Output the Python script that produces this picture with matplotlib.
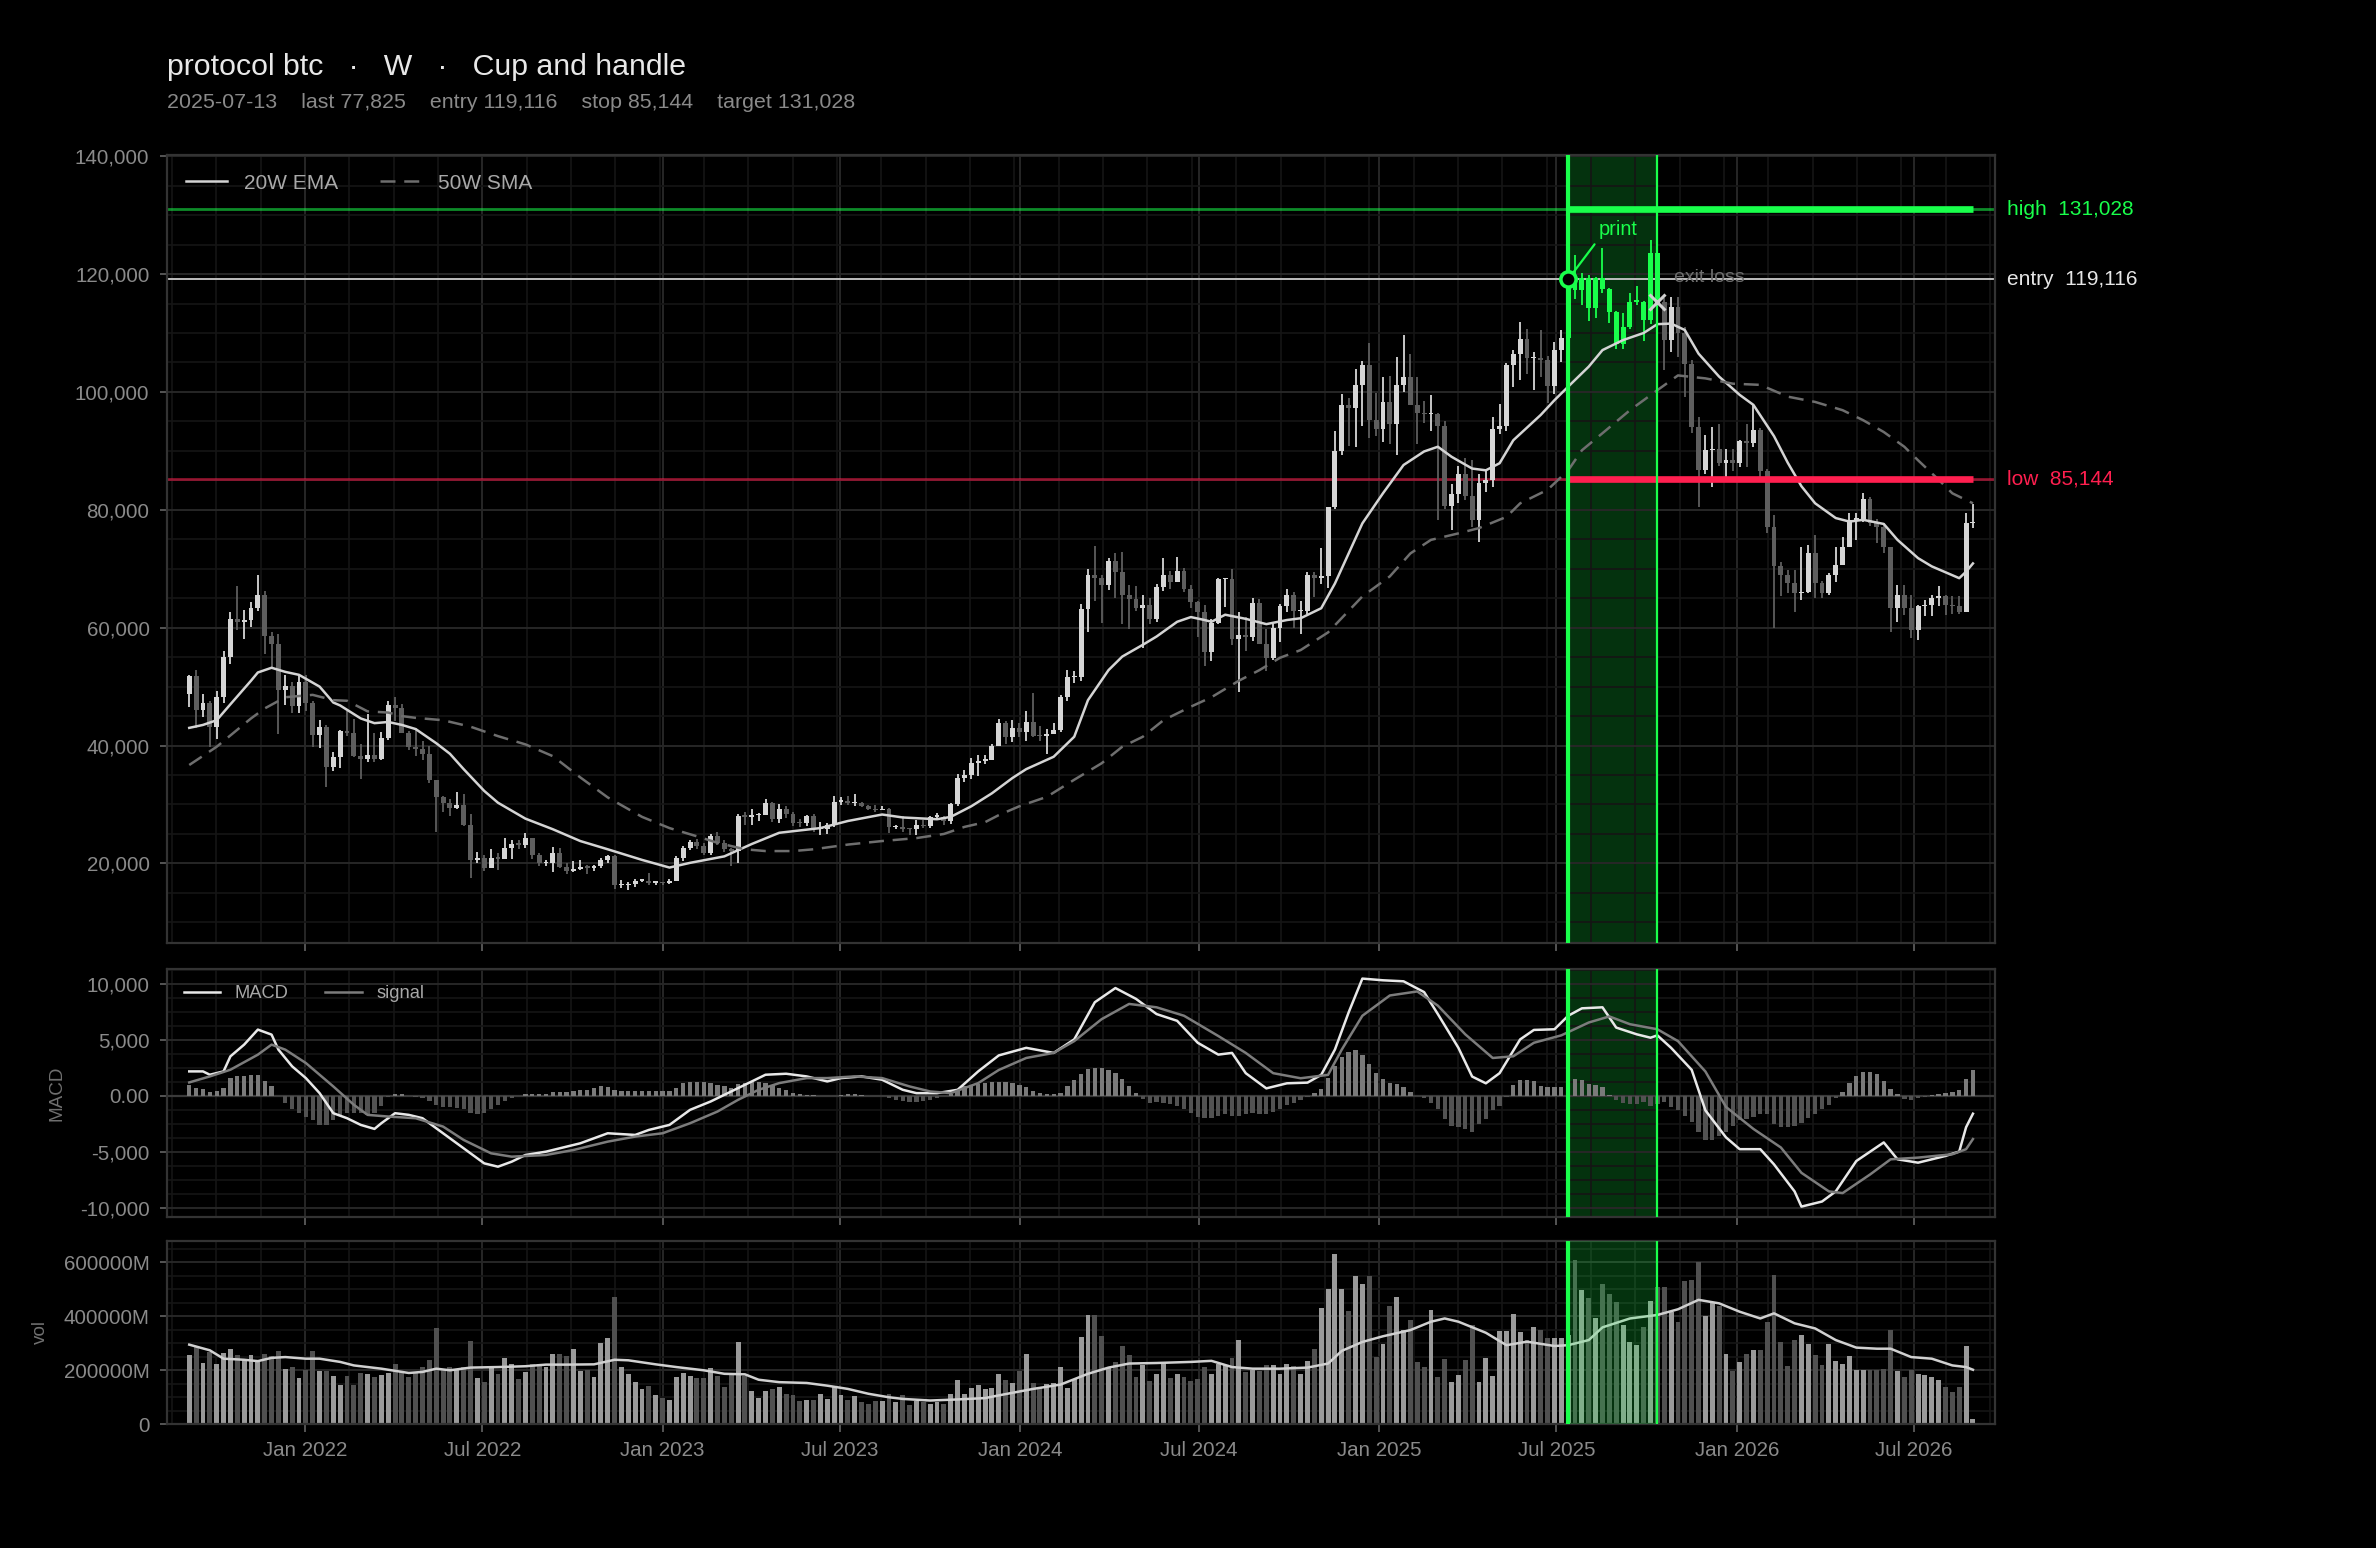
import matplotlib
matplotlib.use("Agg")
import matplotlib.pyplot as plt
import matplotlib.dates as mdates
from matplotlib.ticker import AutoMinorLocator, FuncFormatter, MultipleLocator
import numpy as np
import pandas as pd

plt.rcParams['font.family'] = ['Liberation Sans', 'DejaVu Sans']

# ---- data (weekly bars labelled by week-ending sunday), prices in thousands ----
start_date = "2021-09-05"
first_open_k = 48.8

close_k = [
    51.8, 46.0, 47.3, 43.2, 48.2, 55.0, 61.5, 60.9, 61.3, 63.3,
    65.5, 58.6, 57.3, 49.4, 50.1, 46.7, 50.8, 47.3, 41.8, 43.1,
    36.3, 38.0, 42.4, 42.2, 38.3, 37.7, 38.4, 37.8, 41.3, 46.8,
    46.4, 42.2, 39.7, 39.5, 38.5, 34.1, 31.3, 30.3, 29.4, 29.9,
    26.6, 20.6, 21.0, 19.3, 20.9, 20.8, 22.6, 23.3, 23.2, 24.3,
    21.5, 20.0, 20.0, 21.8, 19.4, 18.8, 19.0, 19.4, 19.3, 19.6,
    20.6, 21.3, 16.3, 16.3, 16.5, 17.1, 17.1, 16.7, 16.8, 16.6,
    17.1, 20.9, 22.7, 23.7, 22.9, 21.8, 24.6, 23.5, 22.4, 22.1,
    28.0, 27.9, 28.2, 28.3, 30.3, 27.6, 29.2, 28.4, 26.9, 26.8,
    28.1, 25.8, 25.9, 26.5, 30.5, 30.6, 30.2, 30.2, 29.8, 29.3,
    29.0, 29.3, 26.1, 26.1, 25.9, 25.8, 26.5, 26.3, 27.9, 27.9,
    27.2, 30.0, 34.5, 35.0, 37.1, 37.4, 37.5, 39.9, 43.8, 41.4,
    43.0, 42.3, 44.0, 41.7, 41.6, 42.0, 42.6, 48.3, 51.6, 51.7,
    63.1, 68.9, 68.4, 67.2, 71.3, 69.4, 65.6, 64.9, 63.4, 63.9,
    61.5, 66.9, 69.0, 67.8, 69.6, 66.6, 64.3, 62.7, 55.9, 60.8,
    68.2, 68.3, 58.1, 58.7, 58.4, 64.2, 57.3, 54.8, 59.9, 63.6,
    65.6, 62.8, 62.9, 69.0, 68.4, 68.8, 80.4, 90.0, 97.7, 97.2,
    101.1, 104.5, 95.2, 93.7, 98.3, 94.5, 101.1, 102.6, 97.7, 96.5,
    96.2, 96.3, 94.2, 80.7, 82.6, 86.1, 82.3, 78.3, 84.5, 85.1,
    93.7, 94.3, 104.6, 106.5, 109.0, 105.7, 105.7, 105.5, 101.0, 107.1,
    109.2, 119.116, 117.3, 119.4, 114.2, 119.3, 117.4, 113.5, 108.2, 111.1,
    115.3, 115.3, 112.2, 123.5, 115.2, 108.8, 114.4, 110.0, 104.8, 94.1,
    86.7, 90.1, 90.4, 87.9, 88.4, 87.9, 91.6, 91.3, 93.5, 86.5,
    77.1, 70.4, 68.9, 67.5, 65.8, 66.1, 72.6, 67.5, 65.8, 68.9,
    70.6, 73.7, 78.3, 78.5, 81.9, 77.7, 77.1, 73.7, 63.3, 65.6,
    63.3, 59.6, 63.6, 63.9, 65.0, 65.3, 63.9, 63.6, 62.7, 77.7,
    77.825,
]

high_k = [
    52.0, 52.9, 48.8, 47.6, 49.2, 56.0, 62.6, 67.0, 63.0, 64.3,
    69.0, 66.3, 59.3, 59.0, 51.9, 50.7, 51.9, 52.0, 47.5, 44.4,
    43.5, 38.9, 42.6, 45.8, 44.5, 40.3, 45.4, 42.1, 42.3, 47.6,
    48.2, 47.1, 42.5, 42.9, 40.8, 39.9, 34.2, 31.4, 31.0, 32.2,
    31.7, 28.4, 22.0, 21.5, 22.5, 21.8, 24.3, 24.0, 24.0, 25.2,
    24.4, 21.8, 20.6, 22.8, 22.7, 20.0, 20.4, 20.5, 19.7, 19.7,
    21.0, 21.5, 21.4, 17.2, 16.8, 17.4, 17.4, 18.4, 17.0, 16.9,
    17.3, 21.3, 23.0, 24.0, 24.2, 23.4, 25.0, 25.3, 24.0, 22.6,
    28.4, 28.8, 29.2, 28.5, 30.9, 30.5, 30.0, 29.8, 28.8, 27.6,
    28.2, 28.4, 27.0, 26.8, 31.4, 31.2, 31.5, 31.8, 30.4, 29.9,
    29.9, 29.7, 29.4, 26.5, 28.1, 26.0, 27.4, 27.4, 28.0, 28.6,
    28.0, 30.3, 35.2, 35.9, 37.9, 38.4, 38.4, 40.2, 44.5, 44.1,
    44.3, 43.8, 45.9, 48.9, 43.3, 42.8, 43.9, 48.6, 52.8, 52.6,
    64.0, 70.0, 73.8, 68.9, 71.8, 72.7, 72.8, 67.2, 67.0, 65.5,
    65.0, 67.4, 71.9, 69.6, 72.0, 70.2, 67.2, 64.5, 63.8, 61.4,
    68.5, 68.5, 70.0, 62.7, 61.8, 65.0, 64.9, 59.8, 60.6, 64.1,
    66.5, 66.0, 64.5, 69.4, 69.5, 73.6, 80.5, 93.4, 99.6, 98.9,
    103.9, 105.2, 108.3, 99.9, 102.5, 102.7, 106.0, 109.6, 106.5, 102.5,
    98.4, 99.4, 96.5, 95.1, 84.3, 87.4, 88.8, 88.5, 86.1, 86.5,
    95.8, 97.9, 104.9, 107.1, 111.9, 110.7, 106.8, 110.5, 106.1, 108.5,
    110.5, 119.5, 123.2, 120.2, 119.8, 119.5, 124.5, 117.6, 113.8, 113.4,
    116.8, 117.9, 115.5, 125.7, 126.2, 115.9, 116.1, 116.1, 111.0, 105.5,
    95.7, 92.7, 94.1, 94.6, 90.4, 90.4, 91.8, 94.6, 97.8, 93.8,
    86.9, 79.1, 71.2, 69.8, 69.8, 73.7, 74.0, 75.7, 67.9, 69.2,
    73.7, 75.4, 79.4, 79.4, 82.8, 82.2, 78.5, 77.7, 73.7, 67.2,
    67.2, 65.6, 63.9, 64.7, 65.6, 67.0, 65.6, 65.3, 65.3, 79.4,
    81.0,
]

low_k = [
    46.6, 43.0, 44.8, 39.8, 41.1, 47.2, 53.9, 59.6, 58.0, 60.2,
    62.8, 55.6, 53.3, 42.0, 46.8, 45.6, 45.6, 45.9, 39.7, 39.6,
    33.0, 35.6, 36.2, 41.7, 38.0, 34.3, 37.2, 37.2, 37.6, 40.9,
    44.2, 42.1, 39.2, 38.2, 37.6, 33.7, 25.4, 28.7, 28.0, 29.3,
    26.4, 17.6, 20.0, 18.8, 19.3, 18.9, 20.7, 20.7, 22.5, 22.6,
    20.8, 19.6, 19.5, 18.5, 19.3, 18.2, 18.5, 18.9, 18.2, 18.7,
    19.3, 20.1, 15.6, 15.8, 15.5, 16.0, 16.9, 16.3, 16.4, 16.4,
    16.5, 17.0, 20.4, 22.3, 22.5, 21.4, 21.4, 23.1, 21.9, 19.6,
    20.0, 26.6, 26.6, 27.2, 28.3, 27.1, 26.9, 27.7, 26.4, 26.1,
    26.3, 25.4, 24.9, 25.0, 26.2, 29.9, 29.9, 29.7, 29.5, 29.0,
    28.8, 29.0, 25.2, 25.8, 25.4, 24.9, 24.9, 26.0, 26.0, 27.3,
    26.6, 26.7, 29.7, 33.9, 34.3, 34.8, 36.8, 37.5, 39.9, 40.2,
    40.6, 41.4, 40.8, 41.5, 40.7, 38.6, 41.9, 42.3, 47.6, 50.6,
    50.9, 59.3, 64.6, 60.8, 66.4, 65.1, 60.7, 59.7, 62.9, 56.6,
    60.6, 60.9, 66.3, 66.6, 68.6, 66.1, 63.4, 58.4, 53.5, 54.3,
    60.7, 63.5, 57.1, 49.1, 56.1, 57.8, 57.2, 52.6, 54.6, 57.6,
    62.7, 59.9, 58.9, 62.4, 65.2, 67.4, 66.8, 80.2, 89.3, 90.8,
    90.6, 94.2, 92.2, 92.5, 91.5, 91.2, 89.3, 100.0, 97.7, 91.2,
    94.7, 93.4, 78.2, 80.1, 76.6, 81.1, 81.6, 77.0, 74.5, 83.1,
    83.9, 92.8, 93.4, 100.8, 102.0, 103.1, 100.4, 102.6, 98.2, 99.6,
    105.1, 107.5, 115.7, 114.7, 112.0, 112.6, 116.8, 111.7, 107.3, 107.3,
    110.6, 114.8, 108.7, 111.6, 104.8, 103.7, 106.8, 106.0, 99.2, 93.0,
    80.5, 86.0, 83.9, 87.5, 85.1, 86.5, 87.3, 87.3, 90.7, 85.6,
    76.0, 59.9, 65.3, 65.8, 62.7, 64.7, 65.8, 65.0, 65.0, 65.5,
    67.8, 70.6, 73.7, 74.9, 78.0, 77.3, 74.3, 72.6, 59.3, 61.0,
    62.1, 58.2, 57.9, 62.0, 62.0, 63.6, 62.1, 62.4, 62.4, 62.7,
    76.9,
]

# weekly volume, thousands of millions
volume_k = [
    255, 285, 225, 265, 222, 262, 277, 255, 240, 256,
    228, 258, 252, 272, 205, 213, 172, 201, 272, 198,
    196, 176, 145, 176, 145, 188, 185, 174, 180, 188,
    222, 195, 174, 189, 213, 236, 355, 202, 210, 205,
    213, 307, 172, 155, 211, 186, 243, 222, 167, 193,
    221, 221, 213, 258, 258, 251, 278, 196, 199, 174,
    300, 318, 470, 211, 186, 155, 130, 141, 106, 95,
    90, 173, 188, 178, 172, 171, 206, 178, 138, 188,
    304, 178, 122, 98, 121, 130, 137, 113, 107, 86,
    88, 89, 113, 93, 138, 107, 90, 102, 81, 75,
    86, 84, 113, 83, 109, 72, 86, 83, 75, 80,
    73, 111, 162, 113, 133, 143, 128, 133, 186, 164,
    152, 196, 258, 152, 137, 147, 152, 211, 134, 166,
    323, 404, 404, 325, 211, 230, 288, 255, 174, 217,
    159, 186, 230, 170, 184, 174, 159, 168, 211, 184,
    221, 217, 246, 313, 193, 199, 196, 220, 217, 186,
    221, 214, 184, 232, 279, 431, 499, 631, 499, 419,
    549, 519, 549, 248, 296, 437, 472, 350, 387, 230,
    211, 422, 174, 242, 155, 180, 236, 366, 155, 245,
    176, 345, 345, 407, 342, 311, 358, 348, 317, 317,
    317, 330, 609, 497, 466, 391, 519, 482, 453, 366,
    304, 292, 358, 457, 507, 507, 416, 379, 528, 532,
    602, 400, 453, 437, 261, 196, 230, 258, 276, 273,
    379, 553, 304, 214, 311, 329, 298, 255, 217, 296,
    233, 224, 251, 199, 199, 199, 199, 205, 348, 196,
    174, 201, 184, 180, 174, 164, 137, 120, 137, 288,
    19,
]

macd_hist = [
    983, 685, 596, 298, 387, 685, 1579, 1728, 1788, 1848,
    1877, 1341, 834, -60, -656, -1192, -1550, -1848, -2146, -2593,
    -2593, -2146, -1788, -1550, -1550, -1550, -1699, -1490, -894, -119,
    179, 179, 0, -119, -209, -507, -805, -1013, -1013, -1103,
    -1192, -1550, -1639, -1550, -1192, -805, -507, -209, 0, 149,
    149, 149, 149, 328, 328, 328, 387, 536, 536, 685,
    834, 745, 477, 387, 387, 387, 387, 387, 387, 387,
    417, 685, 1132, 1222, 1192, 1192, 1132, 983, 834, 685,
    1073, 1132, 1192, 1192, 1132, 983, 685, 477, 238, 179,
    89, 30, 0, -60, 0, 30, 149, 119, 30, 0,
    0, -60, -209, -358, -507, -566, -566, -507, -358, -209,
    -60, 149, 477, 834, 983, 1073, 1132, 1192, 1192, 1204,
    1114, 963, 752, 452, 271, 150, 120, 271, 900, 1400,
    1960, 2380, 2468, 2468, 2318, 2017, 1475, 873, 271, -300,
    -632, -580, -600, -700, -950, -1200, -1550, -1896, -1956, -1956,
    -1800, -1655, -1780, -1800, -1650, -1535, -1600, -1655, -1480, -1220,
    -850, -632, -380, -100, 250, 600, 1600, 2700, 3500, 3900,
    4050, 3600, 2850, 2000, 1475, 1170, 1040, 800, 350, 0,
    -200, -650, -1200, -2100, -2700, -2800, -2950, -3250, -2550, -2100,
    -1300, -900, -150, 1000, 1415, 1415, 1300, 900, 752, 800,
    813, 1355, 1475, 1400, 1054, 1000, 750, 100, -400, -650,
    -750, -700, -550, -950, -692, -560, -1000, -1300, -1800, -2300,
    -3200, -3900, -3950, -3600, -3200, -2700, -2150, -2050, -1900, -1580,
    -1600, -2550, -2800, -2770, -2700, -2400, -1950, -1650, -1200, -800,
    -200, 361, 1150, 1750, 2077, 2077, 1900, 1300, 650, 150,
    -300, -350, -200, -100, 60, 120, 220, 380, 500, 1500,
    2300,
]

# indicator lines (week index, value)
ema_wk = [0, 2, 4, 6, 9, 10, 12, 14, 16, 19, 21, 22, 25, 27, 29, 31, 33, 36, 38, 40,
          43, 45, 49, 53, 57, 61, 66, 70, 73, 78, 82, 86, 92, 96, 101, 104, 109, 111, 114, 117,
          120, 122, 126, 129, 131, 134, 136, 139, 141, 144, 146, 148, 149, 151, 154, 157, 160, 162, 165, 167,
          171, 174, 177, 180, 182, 184, 187, 189, 191, 193, 197, 199, 201, 204, 206, 209, 212, 214, 216, 218,
          220, 223, 226, 228, 231, 233, 235, 237, 240, 242, 244, 247, 249, 252, 254, 258, 259, 260]
ema_k = [43.0, 43.5, 44.3, 47.0, 51.0, 52.4, 53.2, 52.5, 52.0, 50.0, 47.3, 46.8, 44.6, 43.8, 44.0, 43.5, 42.8, 40.4, 38.6, 36.0,
         32.3, 30.3, 27.6, 25.8, 23.8, 22.4, 20.6, 19.3, 20.1, 21.2, 23.3, 25.2, 26.0, 27.2, 28.3, 27.8, 27.5, 27.9, 29.7, 31.9,
         34.5, 36.0, 38.1, 41.5, 47.7, 52.8, 55.1, 57.1, 58.5, 61.0, 61.8, 61.3, 61.0, 62.2, 61.5, 60.6, 61.3, 61.6, 63.3, 67.5,
         77.7, 82.8, 87.6, 89.9, 90.7, 89.0, 87.0, 86.7, 87.9, 91.8, 96.1, 98.6, 100.9, 104.3, 107.1, 108.8, 110.0, 111.5, 111.6, 110.5,
         106.5, 102.6, 99.5, 97.8, 92.5, 88.0, 84.0, 81.1, 78.6, 78.0, 78.3, 77.6, 74.9, 71.8, 70.4, 68.4, 69.5, 70.9]

sma_wk = [0, 4, 9, 11, 14, 18, 21, 23, 26, 29, 31, 33, 37, 41, 45, 49, 53, 57, 61, 66,
          70, 74, 77, 81, 84, 88, 91, 96, 101, 106, 110, 113, 116, 118, 121, 125, 129, 133, 136, 139,
          142, 146, 149, 153, 156, 159, 162, 166, 171, 175, 178, 181, 185, 188, 192, 194, 198, 201, 203, 206,
          210, 214, 217, 221, 225, 229, 233, 237, 241, 244, 247, 250, 252, 255, 257, 260]
sma_k = [36.7, 39.8, 44.6, 46.3, 48.2, 48.6, 47.7, 47.6, 45.8, 45.6, 45.0, 44.7, 44.3, 43.2, 41.6, 40.2, 38.2, 34.6, 31.2, 27.9,
         26.0, 24.6, 23.5, 22.4, 22.1, 22.1, 22.4, 23.2, 23.8, 24.3, 25.0, 26.2, 27.0, 28.2, 29.7, 31.3, 34.2, 37.0, 39.8, 41.5,
         44.3, 46.6, 48.2, 51.0, 52.8, 54.9, 56.2, 59.2, 65.3, 68.7, 72.6, 74.9, 76.0, 76.9, 78.8, 81.1, 83.4, 86.7, 90.1, 93.0,
         96.9, 100.3, 102.8, 102.3, 101.4, 101.2, 99.2, 98.3, 96.9, 95.2, 93.2, 90.7, 88.4, 85.1, 82.8, 81.1]

macd_wk = [0, 2, 3, 5, 6, 8, 10, 12, 13, 15, 17, 19, 21, 23, 25, 27, 28, 30, 32, 34,
           36, 38, 39, 41, 43, 45, 47, 49, 52, 54, 57, 61, 65, 67, 70, 73, 76, 78, 81, 84,
           87, 90, 93, 95, 98, 101, 104, 106, 109, 112, 115, 118, 122, 126, 129, 132, 135, 138, 141, 144,
           147, 150, 152, 154, 157, 160, 163, 165, 167, 169, 171, 174, 177, 180, 182, 185, 187, 189, 191, 194,
           196, 199, 201, 203, 206, 208, 211, 213, 214, 216, 219, 221, 224, 226, 229, 231, 234, 235, 238, 240,
           243, 247, 249, 252, 256, 258, 259, 260]
macd_val = [2175, 2175, 1877, 2175, 3516, 4560, 5900, 5453, 4112, 2622, 1579, 238, -1550, -1997, -2593, -2950, -2444, -1550, -1699, -1997,
            -2891, -3785, -4232, -5126, -6020, -6318, -5871, -5275, -4977, -4679, -4232, -3338, -3487, -3040, -2593, -1252, -507, 89, 983, 1877,
            1967, 1728, 1281, 1579, 1728, 1430, 536, 238, 238, 536, 2175, 3600, 4274, 3823, 5027, 8338, 9602, 8639, 7284, 6682,
            4726, 3672, 3823, 2017, 662, 1114, 1174, 1866, 4124, 7435, 10445, 10294, 10204, 9241, 7284, 4274, 1716, 1114, 2017, 5027,
            5870, 5930, 7134, 7796, 7886, 6080, 5478, 5177, 5388, 4274, 2318, -1294, -3702, -4756, -4756, -6110, -8518, -9873, -9421, -8518,
            -5809, -4154, -5659, -5960, -5358, -4967, -2799, -1595]

signal_wk = [0, 3, 6, 10, 12, 14, 17, 21, 24, 26, 29, 33, 37, 40, 44, 47, 52, 56, 61, 65,
             69, 73, 77, 80, 83, 86, 90, 93, 97, 101, 105, 108, 111, 115, 118, 122, 126, 129, 133, 137,
             141, 145, 150, 154, 158, 162, 166, 168, 171, 175, 179, 182, 186, 190, 193, 196, 200, 204, 207, 210,
             214, 217, 221, 224, 228, 232, 235, 239, 241, 245, 248, 252, 257, 259, 260]
signal_val = [1192, 1728, 2324, 3665, 4560, 4112, 2920, 834, -805, -1699, -1848, -1997, -2742, -3934, -5126, -5424, -5275, -4828, -4083, -3636,
              -3338, -2444, -1401, -358, 536, 1132, 1579, 1579, 1728, 1579, 834, 387, 238, 1132, 2300, 3371, 3823, 4876, 6833, 8187,
              7886, 7134, 5328, 3823, 2017, 1565, 1866, 4124, 7134, 8940, 9301, 8037, 5478, 3371, 3522, 4726, 5388, 6532, 7073, 6381,
              5930, 4876, 2167, -993, -2950, -4605, -6863, -8518, -8669, -7013, -5659, -5508, -5208, -4756, -3853]

volma_wk = [0, 3, 5, 8, 10, 12, 14, 17, 19, 22, 24, 28, 32, 34, 36, 38, 41, 45, 49, 52,
            55, 59, 62, 64, 68, 71, 75, 78, 81, 83, 86, 90, 93, 96, 99, 102, 104, 108, 112, 116,
            118, 123, 127, 131, 134, 137, 141, 146, 149, 152, 155, 159, 163, 166, 168, 171, 174, 178, 181, 183,
            185, 189, 192, 195, 199, 201, 204, 206, 210, 214, 217, 220, 223, 226, 229, 231, 234, 237, 240, 243,
            246, 248, 251, 254, 257, 259, 260]
volma_k = [294, 273, 242, 238, 233, 245, 248, 242, 242, 230, 217, 205, 189, 193, 205, 199, 209, 211, 214, 220,
           220, 221, 238, 236, 221, 211, 199, 186, 184, 164, 155, 152, 142, 130, 112, 99, 93, 87, 91, 96,
           106, 130, 146, 186, 209, 224, 226, 230, 234, 211, 205, 205, 209, 224, 271, 304, 325, 348, 379, 391,
           379, 338, 292, 305, 289, 292, 311, 358, 391, 404, 425, 460, 447, 416, 391, 410, 373, 354, 311, 283,
           279, 279, 248, 242, 217, 211, 201]

entry_week, exit_week = 201, 214
entry_px, stop_px, target_px = 119116, 85144, 131028

# ---- styling ----
BG = "#000000"
GREEN = "#19ff4b"
RED = "#ff1f4f"
UP = "#d6d6d6"
DOWN = "#5e5e5e"
TICK = "#8a8a8a"

c = np.array(close_k) * 1000
h = np.array(high_k) * 1000
l = np.array(low_k) * 1000
o = np.r_[first_open_k * 1000, c[:-1]]
n = len(c)
dates = pd.date_range(start_date, periods=n, freq="7D")
x = mdates.date2num(dates.to_pydatetime())
x0 = x[0]


def wk(w):
    return x0 + 7.0 * np.asarray(w, float)


idx = np.arange(n)
in_trade = (idx >= entry_week) & (idx <= exit_week)
up = c >= o
candle_col = np.where(in_trade, GREEN, np.where(up, UP, DOWN))
vol_col = np.where(up, "#9a9a9a", "#505050")

fig = plt.figure(figsize=(11.88, 7.74), dpi=200, facecolor=BG)
W, H = 2376, 1548
L, R = 167, 1995


def add_axes(top, bottom, share=None):
    return fig.add_axes([L / W, 1 - bottom / H, (R - L) / W, (bottom - top) / H],
                        facecolor=BG, sharex=share)


ax = add_axes(155, 943)
ax2 = add_axes(969, 1217, ax)
ax3 = add_axes(1241, 1424, ax)

for a in (ax, ax2, ax3):
    for s in a.spines.values():
        s.set_color("#333333")
        s.set_linewidth(0.8)
    a.tick_params(colors=TICK, labelsize=7.4, length=2.7, width=0.7, pad=3.6)
    a.tick_params(which="minor", length=0)
    a.tick_params(axis="both", which="major", color="#555555")
    a.yaxis.set_minor_locator(AutoMinorLocator(4))
    a.grid(which="major", color="#272727", lw=0.7)
    a.grid(which="minor", color="#151515", lw=0.6)
    a.set_axisbelow(True)

ax.xaxis.set_major_locator(mdates.MonthLocator(bymonth=[1, 7]))
ax.xaxis.set_major_formatter(mdates.DateFormatter("%b %Y"))
ax.xaxis.set_minor_locator(AutoMinorLocator(4))
ax.set_xlim(x0 - 22.7, x0 + 1842.5)
ax.tick_params(labelbottom=False)
ax2.tick_params(labelbottom=False)

# ---- price panel ----
x_in, x_out = x[entry_week], x[exit_week]
ax.axvspan(x_in, x_out, color=GREEN, alpha=0.2, lw=0, zorder=0.4)
ax.axhline(entry_px, color="#bdbdbd", lw=0.7, zorder=1.5)
ax.axhline(target_px, color=GREEN, alpha=0.55, lw=1.0, zorder=1.5)
ax.axhline(stop_px, color=RED, alpha=0.55, lw=1.0, zorder=1.5)

ax.vlines(x, l, h, colors=candle_col, lw=0.65, zorder=2)
body = np.maximum(np.abs(c - o), 250)
ax.bar(x, body, bottom=np.minimum(o, c), width=5.0, color=candle_col, lw=0, zorder=2.1)

ema_line, = ax.plot(wk(ema_wk), np.array(ema_k) * 1000, color="#d4d4d4", lw=0.9, zorder=3, label="20W EMA")
sma_line, = ax.plot(wk(sma_wk), np.array(sma_k) * 1000, color="#6e6e6e", lw=0.9, ls=(0, (6, 3.5)),
                    zorder=3, label="50W SMA")

ax.plot([x_in, x[-1]], [target_px, target_px], color=GREEN, lw=2.4, solid_capstyle="butt", zorder=4)
ax.plot([x_in, x[-1]], [stop_px, stop_px], color=RED, lw=2.4, solid_capstyle="butt", zorder=4)
ax.axvline(x_in, color=GREEN, lw=1.5, zorder=4)
ax.axvline(x_out, color=GREEN, lw=0.8, zorder=4)

ax.plot([x_in], [entry_px], "o", ms=5.5, mfc=BG, mec=GREEN, mew=1.3, zorder=6)
ax.annotate("print", xy=(x_in, entry_px), xytext=(18, 18), textcoords="offset points",
            color=GREEN, fontsize=7.2, ha="center", va="center",
            arrowprops=dict(arrowstyle="-", color=GREEN, lw=0.8, relpos=(0.0, 0.0),
                            shrinkA=0, shrinkB=3), zorder=6)
ax.plot([x_out], [c[exit_week]], "x", ms=6, mew=1.1, color="#d0d0d0", zorder=6)
ax.annotate("exit loss", xy=(x_out, c[exit_week]), xytext=(6, 9), textcoords="offset points",
            color="#6e6e6e", fontsize=7, ha="left", va="center", zorder=6)

yt = ax.get_yaxis_transform()
ax.text(1.0066, target_px, "high  131,028", transform=yt, color=GREEN, fontsize=7.5, va="center")
ax.text(1.0066, entry_px, "entry  119,116", transform=yt, color="#e6e6e6", fontsize=7.5, va="center")
ax.text(1.0066, stop_px, "low  85,144", transform=yt, color=RED, fontsize=7.5, va="center")

ax.set_ylim(6500, 140200)
ax.yaxis.set_major_locator(MultipleLocator(20000))
ax.yaxis.set_major_formatter(FuncFormatter(lambda v, p: f"{v:,.0f}"))
leg = ax.legend(handles=[ema_line, sma_line], loc="upper left", ncol=2, frameon=False,
                fontsize=7.5, handlelength=2.0, columnspacing=2.0)
for t in leg.get_texts():
    t.set_color("#a8a8a8")

# ---- MACD panel ----
hist = np.array(macd_hist, float)
ax2.axvspan(x_in, x_out, color=GREEN, alpha=0.2, lw=0, zorder=0.4)
ax2.axhline(0, color="#3a3a3a", lw=0.8, zorder=1)
ax2.bar(x, hist, width=4.4, color=np.where(hist >= 0, "#7a7a7a", "#525252"), lw=0, zorder=2)
m_line, = ax2.plot(wk(macd_wk), macd_val, color="#e8e8e8", lw=0.9, zorder=3, label="MACD")
s_line, = ax2.plot(wk(signal_wk), signal_val, color="#7c7c7c", lw=0.9, zorder=3, label="signal")
ax2.axvline(x_in, color=GREEN, lw=1.5, zorder=4)
ax2.axvline(x_out, color=GREEN, lw=0.8, zorder=4)
ax2.set_ylim(-10800, 11300)
ax2.yaxis.set_major_locator(MultipleLocator(5000))
ax2.yaxis.set_major_formatter(FuncFormatter(lambda v, p: "0.00" if abs(v) < 1e-6 else f"{v:,.0f}"))
ax2.set_ylabel("MACD", color="#707070", fontsize=6.8)
ax2.yaxis.set_label_coords(-0.0553, 0.5)
leg2 = ax2.legend(handles=[m_line, s_line], loc="upper left", ncol=2, frameon=False,
                  fontsize=6.6, handlelength=2.0, columnspacing=2.0)
for t in leg2.get_texts():
    t.set_color("#a8a8a8")

# ---- volume panel ----
ax3.bar(x, volume_k, width=5.0, color=vol_col, lw=0, zorder=2)
ax3.plot(wk(volma_wk), volma_k, color="#d0d0d0", lw=0.9, zorder=3)
ax3.axvspan(x_in, x_out, color=GREEN, alpha=0.2, lw=0, zorder=3.5)
ax3.axvline(x_in, color=GREEN, lw=1.5, zorder=4)
ax3.axvline(x_out, color=GREEN, lw=0.8, zorder=4)
ax3.set_ylim(0, 678)
ax3.yaxis.set_major_locator(MultipleLocator(200))
ax3.yaxis.set_major_formatter(FuncFormatter(lambda v, p: "0" if v == 0 else f"{int(round(v))}000M"))
ax3.set_ylabel("vol", color="#707070", fontsize=6.8)
ax3.yaxis.set_label_coords(-0.0645, 0.5)

# ---- titles ----
fig.text(L / W, 1 - 67 / H, "protocol btc   \u00b7   W   \u00b7   Cup and handle",
         color="#e8e8e8", fontsize=10.9, va="center", ha="left")
fig.text(L / W, 1 - 103 / H,
         "2025-07-13    last 77,825    entry 119,116    stop 85,144    target 131,028",
         color="#8a8a8a", fontsize=7.7, va="center", ha="left")

fig.savefig("out.png", dpi=200, facecolor=BG)
